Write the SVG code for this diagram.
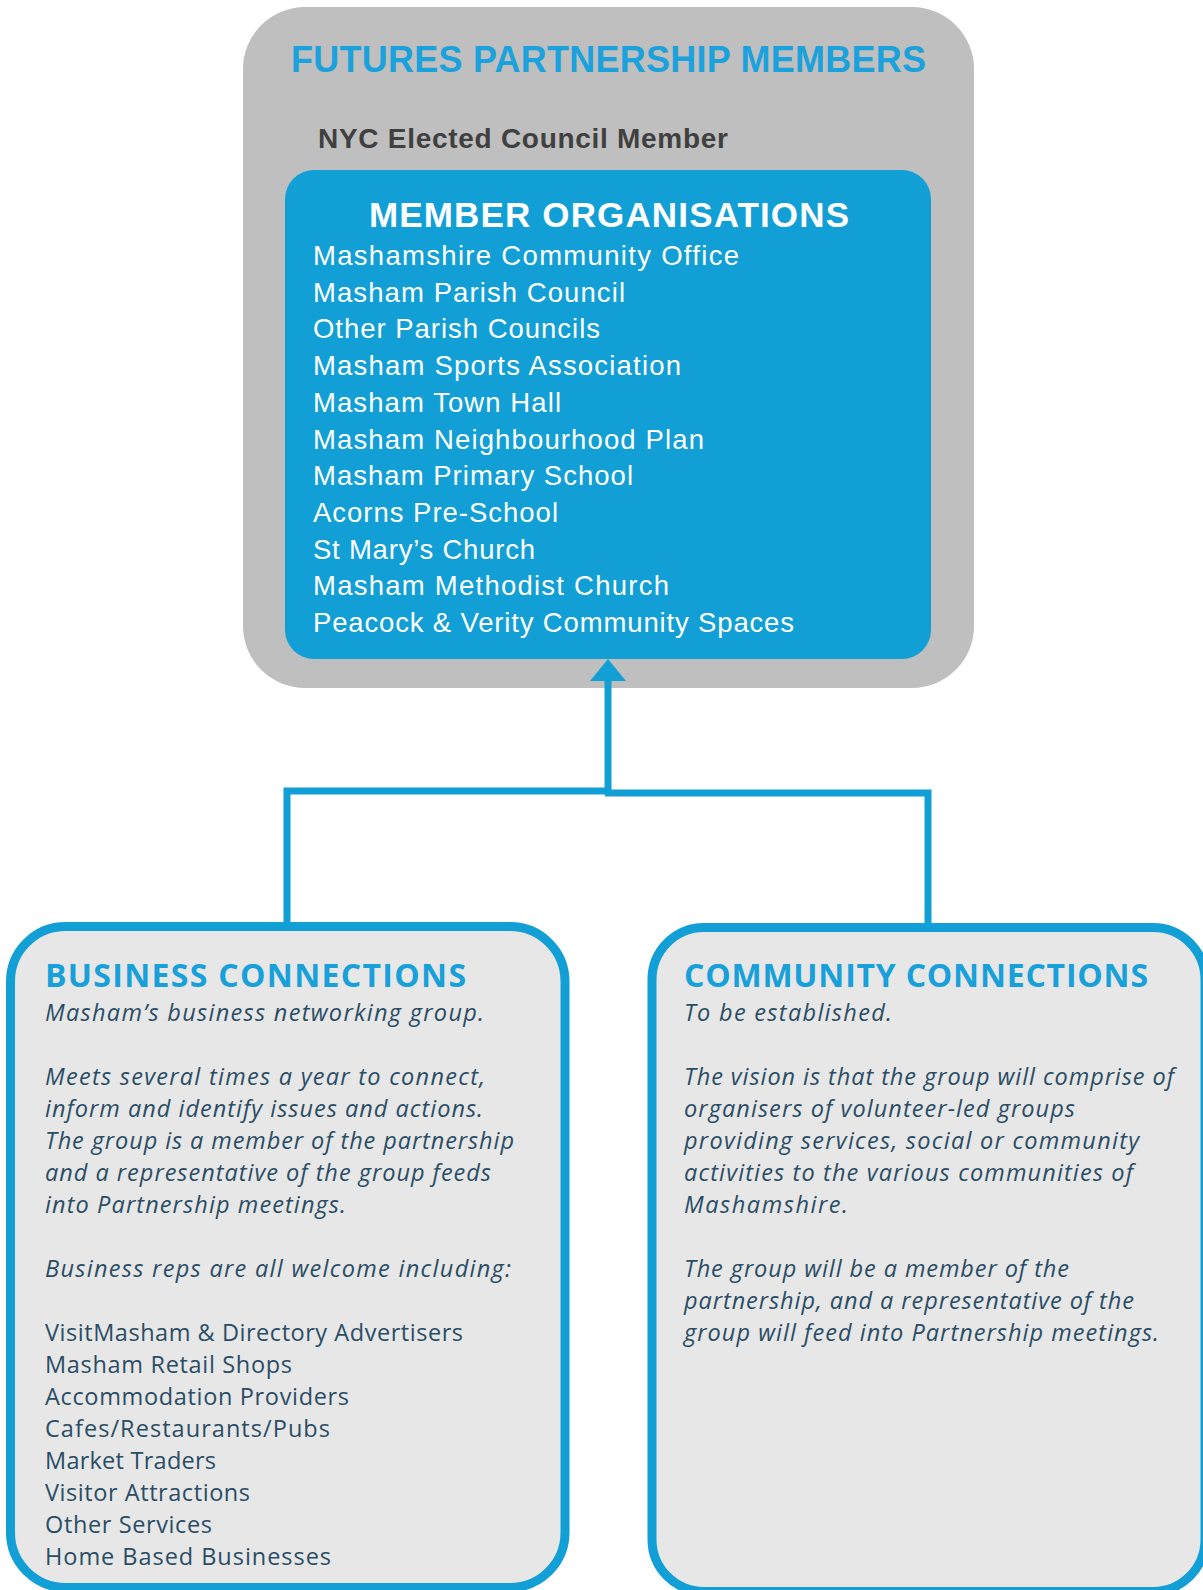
<svg xmlns="http://www.w3.org/2000/svg" width="1203" height="1590" viewBox="0 0 1203 1590">
<defs>
<style>
.gray{fill:#BFBFBF}
.blue{fill:#119FD6}
.conbox{fill:#E7E7E7;stroke:#119FD6;stroke-width:9}
.conn{fill:none;stroke:#119FD6;stroke-width:7}
.t1{font-family:"Liberation Sans",Arial,sans-serif;font-weight:bold;font-size:36px;fill:#1BA1DC}
.nyc{font-family:"Liberation Sans",Arial,sans-serif;font-weight:bold;font-size:28px;fill:#404040}
.mo{font-family:"Liberation Sans",Arial,sans-serif;font-weight:bold;font-size:35px;fill:#FFFFFF}
.ml{font-family:"Liberation Sans",Arial,sans-serif;font-size:27.5px;fill:#FFFFFF}
.bt{font-family:"Open Sans","Liberation Sans",sans-serif;font-weight:bold;font-size:32px;fill:#17A0D9}
.it{font-family:"Open Sans","Liberation Sans",sans-serif;font-style:italic;font-size:23.5px;fill:#2A4D66}
.rg{font-family:"Open Sans","Liberation Sans",sans-serif;font-size:23.5px;fill:#2A4D66}
</style>
</defs>
<g id="partnership">
<rect class="gray" x="243" y="7" width="731" height="681" rx="62" ry="62"/>
<text class="t1" x="291" y="72" textLength="635">FUTURES PARTNERSHIP MEMBERS</text>
<text class="nyc" x="318" y="148" textLength="410">NYC Elected Council Member</text>
</g>
<g id="member-organisations">
<rect class="blue" x="285" y="170" width="646" height="489" rx="29" ry="29"/>
<text class="mo" x="369" y="227" textLength="480">MEMBER ORGANISATIONS</text>
<text class="ml" x="313" y="265" textLength="426">Mashamshire Community Office</text>
<text class="ml" x="313" y="301.7" textLength="312">Masham Parish Council</text>
<text class="ml" x="313" y="338.4" textLength="287">Other Parish Councils</text>
<text class="ml" x="313" y="375.1" textLength="368">Masham Sports Association</text>
<text class="ml" x="313" y="411.8" textLength="248">Masham Town Hall</text>
<text class="ml" x="313" y="448.5" textLength="391">Masham Neighbourhood Plan</text>
<text class="ml" x="313" y="485.2" textLength="320">Masham Primary School</text>
<text class="ml" x="313" y="521.9" textLength="245">Acorns Pre-School</text>
<text class="ml" x="313" y="558.6" textLength="222">St Mary’s Church</text>
<text class="ml" x="313" y="595.3" textLength="356">Masham Methodist Church</text>
<text class="ml" x="313" y="632" textLength="481">Peacock &amp; Verity Community Spaces</text>
</g>
<g id="connectors">
<path class="conn" d="M287,922 V791 H611"/>
<path class="conn" d="M928,923 V793 H605"/>
<path class="conn" d="M608,795 V678"/>
<polygon fill="#119FD6" points="590,681 626,681 608,659"/>
</g>
<g id="business-connections">
<rect class="conbox" x="10.5" y="926.5" width="554.5" height="661" rx="55" ry="55"/>
<text class="bt" x="45" y="987" textLength="421">BUSINESS CONNECTIONS</text>
<text class="it" x="45" y="1021" textLength="439">Masham’s business networking group.</text>
<text class="it" x="45" y="1085" textLength="440">Meets several times a year to connect,</text>
<text class="it" x="45" y="1117" textLength="438">inform and identify issues and actions.</text>
<text class="it" x="45" y="1149" textLength="469">The group is a member of the partnership</text>
<text class="it" x="45" y="1181" textLength="446">and a representative of the group feeds</text>
<text class="it" x="45" y="1213" textLength="301">into Partnership meetings.</text>
<text class="it" x="45" y="1277" textLength="466">Business reps are all welcome including:</text>
<text class="rg" x="45" y="1341" textLength="418">VisitMasham &amp; Directory Advertisers</text>
<text class="rg" x="45" y="1373" textLength="247">Masham Retail Shops</text>
<text class="rg" x="45" y="1405" textLength="304">Accommodation Providers</text>
<text class="rg" x="45" y="1437" textLength="285">Cafes/Restaurants/Pubs</text>
<text class="rg" x="45" y="1469" textLength="171">Market Traders</text>
<text class="rg" x="45" y="1501" textLength="205">Visitor Attractions</text>
<text class="rg" x="45" y="1533" textLength="167">Other Services</text>
<text class="rg" x="45" y="1565" textLength="286">Home Based Businesses</text>
</g>
<g id="community-connections">
<rect class="conbox" x="652" y="927.5" width="553" height="664" rx="52" ry="52"/>
<text class="bt" x="684" y="987" textLength="464">COMMUNITY CONNECTIONS</text>
<text class="it" x="684" y="1021" textLength="208">To be established.</text>
<text class="it" x="684" y="1085" textLength="490">The vision is that the group will comprise of</text>
<text class="it" x="684" y="1117" textLength="391">organisers of volunteer-led groups</text>
<text class="it" x="684" y="1149" textLength="455">providing services, social or community</text>
<text class="it" x="684" y="1181" textLength="449">activities to the various communities of</text>
<text class="it" x="684" y="1213" textLength="164">Mashamshire.</text>
<text class="it" x="684" y="1277" textLength="385">The group will be a member of the</text>
<text class="it" x="684" y="1309" textLength="450">partnership, and a representative of the</text>
<text class="it" x="684" y="1341" textLength="475">group will feed into Partnership meetings.</text>
</g>
</svg>
